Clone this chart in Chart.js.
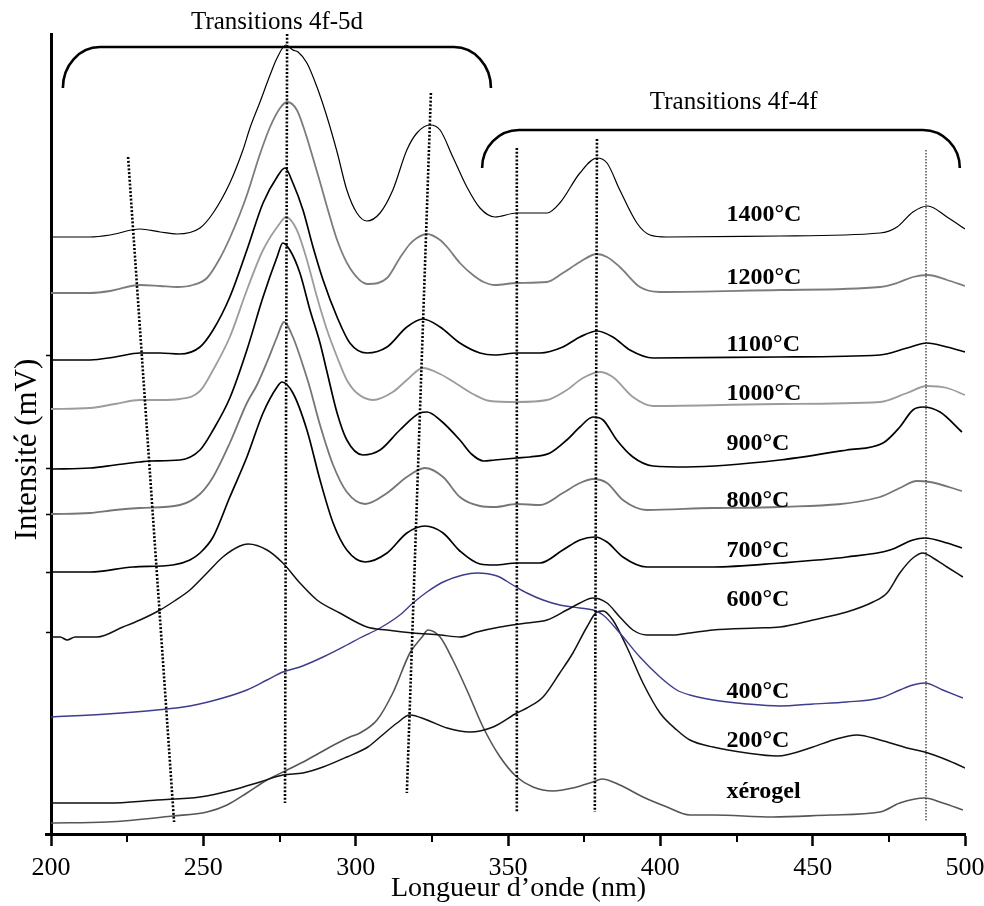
<!DOCTYPE html>
<html><head><meta charset="utf-8">
<script src="https://cdn.jsdelivr.net/npm/chart.js@4"></script>
<style>html,body{margin:0;padding:0;background:#fff}</style>
</head><body>
<canvas id="c" width="984" height="906"></canvas>
<script>
// ---- data: [wavelength nm, intensity (arbitrary mV offset units)] ----
const s1400 = [[200,59.7],[212.8,59.7],[219.4,59.9],[229.2,60.5],[235.8,60.2],[241.4,60.0],[248.9,60.6],[253.2,62.1],[258.7,65.1],[263.0,68.4],[265.3,70.6],[268.6,73.2],[271.9,75.9],[274.2,77.6],[277.1,78.9],[279.4,78.4],[281.1,78.2],[284.0,77.1],[287.3,74.7],[290.6,71.7],[293.9,68.2],[297.1,64.4],[300.4,62.1],[303.7,61.3],[308.0,62.1],[312.2,64.4],[316.8,68.4],[320.1,70.1],[324.4,70.9],[327.7,70.4],[331.9,67.7],[336.5,64.7],[340.8,62.6],[345.7,61.7],[352.9,62.1],[362.8,62.1],[367.0,63.1],[373.6,66.1],[379.2,67.6],[382.5,67.1],[386.7,64.4],[392.3,61.1],[396.6,59.9],[402.2,59.7],[439.3,59.8],[472.1,60.1],[477.7,60.7],[482.9,62.2],[487.8,62.8],[494.1,61.7],[500,60.5]];
const s1200 = [[200,54.1],[212.8,54.1],[219.4,54.3],[229.2,54.9],[235.8,54.8],[241.4,54.7],[246.6,54.9],[251.2,55.6],[255.5,57.6],[258.7,59.6],[262.0,62.0],[264.3,63.9],[268.6,68.0],[271.9,70.7],[275.2,72.6],[277.5,73.2],[280.7,72.4],[283.4,70.2],[285.7,67.9],[288.3,65.2],[290.9,62.4],[293.9,59.4],[298.1,56.6],[304.0,55.0],[310.3,55.6],[314.5,57.6],[317.8,59.0],[320.1,59.6],[323.4,60.0],[327.7,59.4],[330.0,58.7],[334.2,57.1],[338.5,55.9],[342.0,55.2],[345.7,54.9],[352.9,55.1],[362.8,55.2],[368.0,56.1],[373.6,57.2],[379.2,58.0],[382.5,57.7],[386.7,56.7],[393.3,54.7],[399.9,54.2],[439.3,54.4],[472.1,54.7],[477.7,55.1],[482.9,55.7],[487.8,55.9],[494.1,55.4],[500,54.8]];
const s1100 = [[200,47.4],[212.8,47.4],[221.0,47.7],[229.2,48.1],[235.8,48.1],[242.3,48.0],[248.9,48.7],[253.2,50.4],[258.7,53.7],[264.3,58.4],[269.6,63.1],[274.2,65.7],[276.8,66.6],[279.4,65.1],[282.7,62.4],[286.0,58.7],[289.3,55.4],[293.9,51.7],[298.1,49.1],[303.7,48.1],[310.3,48.7],[316.8,50.7],[322.1,51.5],[327.7,50.7],[334.2,49.1],[340.8,48.1],[345.7,47.9],[352.9,48.1],[360.5,48.1],[368.0,48.7],[373.6,49.7],[379.2,50.3],[384.4,49.7],[390.0,48.4],[397.6,47.6],[439.3,47.7],[472.1,47.9],[481.0,48.6],[487.5,49.1],[494.1,48.7],[500,48.2]];
const s1000 = [[200,42.5],[212.8,42.6],[221.0,43.0],[229.2,43.4],[235.8,43.4],[242.3,43.5],[248.9,44.3],[253.2,46.4],[258.7,49.7],[264.3,54.4],[269.6,58.4],[275.2,61.1],[277.1,61.7],[280.7,60.4],[284.0,57.4],[287.3,53.7],[290.6,50.4],[293.9,47.7],[297.1,45.4],[300.4,44.1],[305.7,43.4],[312.2,44.2],[316.8,45.4],[322.1,46.6],[327.7,46.0],[333.2,45.0],[338.5,44.0],[344.1,43.3],[352.9,43.2],[362.8,43.4],[369.3,44.4],[374.6,45.6],[380.2,46.2],[384.4,45.7],[391.0,43.7],[397.6,42.8],[439.3,43.0],[472.1,43.2],[481.0,44.1],[487.5,44.8],[494.1,44.6],[500,43.9]];
const s900 = [[200,36.5],[212.8,36.6],[221.0,36.9],[229.2,37.2],[232.5,37.3],[242.3,37.4],[248.9,38.4],[253.2,40.4],[258.7,43.6],[264.3,48.4],[269.6,53.7],[274.2,57.7],[276.1,59.1],[278.4,58.4],[281.7,56.1],[285.0,52.4],[288.3,49.1],[290.6,46.2],[293.9,42.1],[297.1,39.4],[302.4,37.9],[308.0,38.4],[314.5,40.4],[321.1,42.1],[323.4,42.2],[327.7,41.4],[334.2,39.4],[338.0,38.0],[342.0,37.3],[345.7,37.4],[352.9,37.6],[357.2,37.7],[363.8,38.1],[369.3,39.4],[373.6,40.7],[377.9,41.7],[381.2,41.4],[385.7,39.4],[391.0,37.7],[397.6,36.8],[408.7,36.7],[439.3,37.4],[461.2,38.4],[473.1,39.1],[478.6,40.7],[482.9,42.4],[486.2,42.7],[491.8,42.2],[499.0,40.2]];
const s800 = [[200,32.0],[212.8,32.1],[221.0,32.4],[229.2,32.6],[242.3,32.9],[248.9,34.0],[253.2,35.7],[258.7,39.1],[264.3,43.1],[267.6,44.9],[270.9,47.2],[274.2,49.7],[276.5,51.2],[279.4,49.7],[283.4,46.2],[285.0,44.6],[288.3,40.9],[292.6,36.9],[297.1,34.2],[303.1,33.0],[310.3,34.1],[316.8,35.7],[322.7,36.6],[328.7,35.7],[334.2,33.7],[340.8,32.8],[345.7,32.7],[352.9,33.0],[360.5,32.9],[368.0,34.1],[373.6,35.1],[377.9,35.5],[382.5,35.1],[387.7,33.4],[395.6,32.4],[417.3,32.6],[439.3,32.7],[472.1,33.7],[478.6,34.6],[484.2,35.3],[488.5,35.2],[499.0,34.3]];
const s700 = [[200,26.2],[212.8,26.2],[226.9,26.7],[240.0,26.9],[245.6,27.4],[248.9,28.1],[253.2,29.7],[258.7,33.7],[264.3,37.7],[269.6,42.1],[274.2,44.7],[275.8,45.2],[279.4,44.1],[284.0,40.4],[288.3,35.4],[292.6,31.1],[297.1,28.4],[303.1,27.2],[310.3,28.1],[316.8,30.1],[322.7,30.8],[328.7,30.1],[334.2,28.3],[340.8,27.0],[345.7,26.9],[352.9,27.1],[360.5,27.1],[368.0,28.4],[373.6,29.4],[378.5,29.7],[382.5,29.2],[387.7,27.7],[395.6,26.7],[417.3,26.7],[439.3,27.1],[461.2,27.7],[475.4,28.4],[482.9,29.4],[486.8,29.6],[494.1,29.1],[499.0,28.6]];
const s600 = [[200,19.7],[203.0,19.7],[205.3,19.4],[207.9,19.7],[215.1,19.7],[223.6,20.7],[229.2,21.4],[235.8,22.4],[240.0,23.2],[245.6,24.4],[251.2,26.1],[256.4,27.7],[262.0,28.8],[264.7,29.0],[270.9,28.4],[276.1,27.1],[281.7,25.1],[287.3,23.4],[294.8,22.1],[303.7,20.7],[310.3,20.4],[318.8,20.1],[327.7,19.9],[334.2,19.7],[339.8,20.2],[347.4,20.7],[356.2,21.1],[362.8,21.4],[369.3,22.4],[373.6,23.1],[377.9,23.6],[382.5,23.1],[386.7,21.7],[391.0,20.4],[395.6,19.9],[404.1,19.9],[409.7,20.1],[417.3,20.4],[431.7,20.6],[439.3,20.7],[450.1,21.4],[461.2,22.2],[469.8,23.2],[474.4,24.1],[478.6,26.1],[482.9,27.6],[486.2,28.1],[489.5,27.6],[494.1,26.7],[499.3,25.7]];
const s400 = [[200,11.7],[218.4,12.0],[234.8,12.4],[245.6,12.8],[256.4,13.6],[264.3,14.4],[270.9,15.4],[276.1,16.2],[281.7,16.7],[289.3,17.7],[297.1,18.9],[301.4,19.6],[308.0,20.6],[314.5,21.9],[318.8,23.1],[323.4,24.2],[328.7,25.2],[335.2,25.9],[339.8,26.1],[346.4,25.8],[351.6,24.9],[356.2,24.1],[361.5,23.4],[367.0,22.9],[373.6,22.6],[377.9,22.4],[381.2,21.9],[386.7,20.1],[393.3,17.7],[399.9,15.7],[405.4,14.4],[409.7,13.9],[417.3,13.4],[428.4,13.0],[439.3,12.8],[450.1,13.0],[461.2,13.2],[472.1,13.6],[478.6,14.4],[482.9,14.9],[486.8,15.1],[492.7,14.4],[499.3,13.6]];
const s200 = [[200,3.1],[218.4,3.1],[234.8,3.4],[248.9,3.7],[259.7,4.4],[268.6,5.2],[276.1,5.9],[282.7,6.1],[289.3,6.7],[297.1,7.7],[304.0,8.7],[308.0,9.7],[313.6,11.1],[317.8,11.9],[323.4,11.4],[330.0,10.6],[337.5,10.2],[345.1,10.7],[352.9,12.1],[356.2,12.6],[361.5,13.7],[367.0,16.1],[371.3,18.1],[375.9,20.7],[379.2,22.2],[381.2,22.3],[384.4,21.4],[389.0,18.7],[394.3,15.1],[399.9,12.1],[405.4,10.4],[409.7,9.4],[417.3,8.7],[428.4,8.1],[438.3,7.8],[450.1,8.7],[456.7,9.4],[464.5,9.9],[472.1,9.4],[481.0,8.6],[486.8,8.2],[494.1,7.4],[500,6.6]];
const sXerogel = [[200,1.1],[218.4,1.2],[240.0,1.8],[251.2,2.2],[257.8,2.9],[264.3,4.1],[270.9,5.4],[277.5,6.4],[284.0,7.4],[291.6,8.7],[298.1,9.7],[301.4,10.1],[307.0,11.4],[312.2,14.1],[317.8,18.1],[321.8,19.7],[323.7,20.4],[327.7,19.7],[331.9,17.4],[336.5,14.4],[341.8,10.7],[347.4,7.7],[352.9,5.7],[358.2,4.7],[364.8,4.3],[371.3,4.6],[377.9,5.2],[380.8,5.5],[386.7,4.9],[394.3,3.7],[402.2,2.7],[409.7,1.9],[417.3,1.9],[437.0,1.7],[455.7,1.9],[472.1,2.2],[478.6,3.1],[486.8,3.6],[492.7,3.1],[499.3,2.4]];

const seriesNames = ['1400°C','1200°C','1100°C','1000°C','900°C','800°C','700°C','600°C','400°C','200°C','xérogel'];
const seriesData = [s1400, s1200, s1100, s1000, s900, s800, s700, s600, s400, s200, sXerogel];
const labelX = 421.7;
const labelY = [61.3, 55.0, 48.3, 43.4, 38.4, 32.7, 27.7, 22.8, 13.6, 8.7, 3.6];

// dotted guide lines (start, end) in data units
const guides = [[[225.3,67.7],[240.4,1.2]], [[277.5,80],[276.8,3.1]], [[324.7,74.1],[316.8,4.1]], [[352.9,68.6],[352.9,2.2]], [[379.2,69.5],[378.5,2.2]]];
const thinGuide = [[487.2,68.4],[487.2,1.2]];

// brackets and their titles
const brackets = [{x1:203.9, x2:344.4, top:78.7, end:74.6}, {x1:341.5, x2:498.3, top:70.4, end:66.6}];
const bracketTitles = ['Transitions 4f-5d', 'Transitions 4f-4f'];
const bracketTitleX = [274.2, 424.1];
const bracketTitleY = [80.5, 72.5];

const xTickStep = 50;
const minorTicks = [225, 275, 325, 375, 425, 475];
const yTickVals = [47.9, 36.5, 32.0, 26.2, 20.2];

// ---- styles ----
const seriesColors = ['#000000','#7c7c7c','#000000','#9c9c9c','#000000','#767676','#000000','#111111','#3e3c8c','#111111','#555555'];
const seriesWidths = [1.2, 1.8, 1.7, 1.8, 1.7, 1.8, 1.7, 1.5, 1.4, 1.5, 1.6];
const FONT = '"Liberation Serif", "DejaVu Serif", serif';
const NB = '\u00a0';

const toXY = arr => arr.map(p => ({x: p[0], y: p[1]}));

const datasets = [];
guides.forEach(g => datasets.push({data: toXY(g), borderColor:'#000', borderWidth:2.6, borderDash:[2,1.8], pointRadius:0, tension:0, borderCapStyle:'butt', order:0}));
datasets.push({data: toXY(thinGuide), borderColor:'#222', borderWidth:1.2, borderDash:[1.5,1.5], pointRadius:0, tension:0, order:0});
seriesData.forEach((s, i) => datasets.push({label: seriesNames[i], data: toXY(s), borderColor: seriesColors[i], borderWidth: seriesWidths[i], pointRadius:0, cubicInterpolationMode:'monotone', order:1}));

const annot = {
  id: 'annot',
  afterDraw(chart) {
    const {ctx, scales:{x, y}} = chart;
    ctx.save();
    ctx.strokeStyle = '#000'; ctx.fillStyle = '#000';
    // minor ticks
    ctx.lineWidth = 2;
    const yb = y.getPixelForValue(0);
    minorTicks.forEach(v => { const px = Math.round(x.getPixelForValue(v)); ctx.beginPath(); ctx.moveTo(px, yb); ctx.lineTo(px, yb + 8); ctx.stroke(); });
    // x axis line extends slightly left of the y axis
    ctx.lineWidth = 3;
    ctx.beginPath(); ctx.moveTo(x.left - 6, yb + 0.5); ctx.lineTo(x.left, yb + 0.5); ctx.stroke();
    // brackets
    ctx.lineWidth = 2.6;
    brackets.forEach(b => {
      const L = x.getPixelForValue(b.x1), R = x.getPixelForValue(b.x2);
      const T = y.getPixelForValue(b.top), E = y.getPixelForValue(b.end);
      const rx = 37, ry = E - T;
      ctx.beginPath();
      ctx.ellipse(L + rx, E, rx, ry, 0, Math.PI, 1.5 * Math.PI);
      ctx.lineTo(R - rx, T);
      ctx.ellipse(R - rx, E, rx, ry, 0, 1.5 * Math.PI, 2 * Math.PI);
      ctx.stroke();
    });
    ctx.font = '25px ' + FONT;
    ctx.textAlign = 'center'; ctx.textBaseline = 'alphabetic';
    bracketTitles.forEach((t, i) => ctx.fillText(t, x.getPixelForValue(bracketTitleX[i]), y.getPixelForValue(bracketTitleY[i])));
    // series labels
    ctx.font = 'bold 24px ' + FONT;
    ctx.textAlign = 'left';
    seriesNames.forEach((t, i) => ctx.fillText(t, x.getPixelForValue(labelX), y.getPixelForValue(labelY[i])));
    ctx.restore();
  }
};

new Chart(document.getElementById('c'), {
  type: 'line',
  data: { datasets },
  options: {
    responsive: false,
    animation: false,
    events: [],
    layout: { padding: { left: 0, right: 19, top: 34, bottom: 0 } },
    plugins: { legend: { display: false }, tooltip: { enabled: false } },
    scales: {
      x: {
        type: 'linear', min: 200, max: 500,
        ticks: { stepSize: xTickStep, color: '#000', font: { family: FONT, size: 26 }, padding: 7, maxRotation: 0 },
        grid: { drawOnChartArea: false, drawTicks: true, tickLength: 12, tickWidth: 2.5, tickColor: '#000' },
        border: { display: true, color: '#000', width: 3 },
        title: { display: true, text: NB + NB + NB + 'Longueur d’onde (nm)', color: '#000', font: { family: FONT, size: 28 }, padding: { top: 0, bottom: 1 } },
        afterFit: s => { s.height = 72; s.paddingLeft = 0; s.paddingRight = 0; }
      },
      y: {
        type: 'linear', min: 0, max: 80,
        afterBuildTicks: s => { s.ticks = yTickVals.map(v => ({ value: v })); },
        ticks: { display: false },
        grid: { drawOnChartArea: false, drawTicks: true, tickLength: 5, tickWidth: 1.5, tickColor: '#000' },
        border: { display: true, color: '#000', width: 3 },
        title: { display: true, text: 'Intensité (mV)' + NB + NB + NB + NB, color: '#000', font: { family: FONT, size: 31 }, padding: { top: 9, bottom: 0 } },
        afterFit: s => { s.width = 51; s.paddingTop = 0; s.paddingBottom = 0; }
      }
    }
  },
  plugins: [annot]
});
</script>
</body></html>
